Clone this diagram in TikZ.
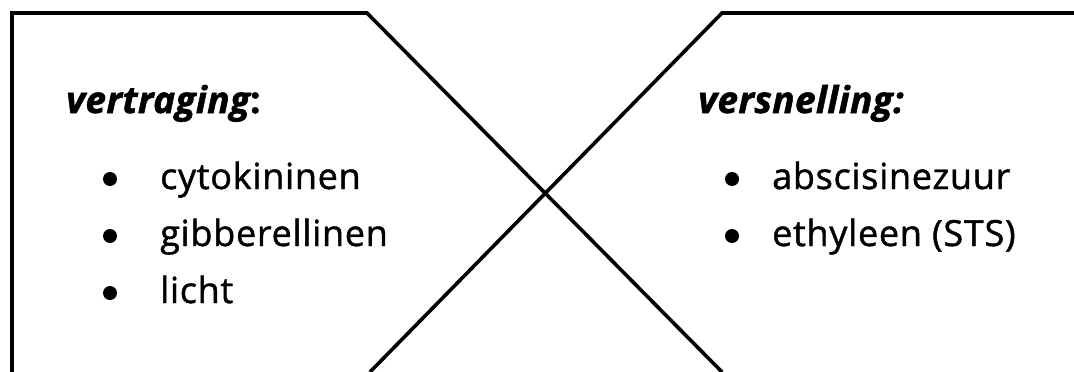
\documentclass[tikz,border=0pt]{standalone}
\usepackage{fontspec}
\setmainfont{Open Sans}
\newfontfamily\itemfont[FakeBold=1.2,LetterSpace=2]{Open Sans}
\newfontfamily\headfont[FakeBold=1.5,LetterSpace=1]{Open Sans}
\begin{document}
\begin{tikzpicture}[x=1pt,y=-1pt,
  frame/.style={line width=3.6pt,line join=miter},
  head/.style={anchor=base west,inner sep=0pt,font=\fontsize{37}{44}\headfont\bfseries\itshape},
  item/.style={anchor=base west,inner sep=0pt,font=\fontsize{36}{44}\itemfont},
  dot/.style={circle,fill=black,inner sep=0pt,minimum size=14pt}]
\useasboundingbox (0,0) rectangle (1074,372);
\coordinate (bl) at (12,372);
\coordinate (tl) at (12,13);
\coordinate (tla) at (367,13);
\coordinate (br) at (722,372);
\coordinate (bla) at (370,372);
\coordinate (tra) at (722,13);
\coordinate (tr) at (1074,13);
\draw[frame] (bl) -- (tl) -- (tla) -- (br);
\draw[frame] (bla) -- (tra) -- (tr);
\node[head] (h1) at (66,113) {vertraging\upshape:};
\node[item] (a1) at (160,189) {cytokininen};
\node[item] (a2) at (160,246) {gibberellinen};
\node[item] (a3) at (160,303) {licht};
\node[dot] (d1) at (110,179) {};
\node[dot] (d2) at (110,236) {};
\node[dot] (d3) at (110,293) {};
\node[head] (h2) at (698,113) {versnelling:};
\node[item] (b1) at (772,189) {abscisinezuur};
\node[item] (b2) at (772,246) {ethyleen (STS)};
\node[dot] (e1) at (732,179) {};
\node[dot] (e2) at (732,236) {};
\end{tikzpicture}
\end{document}
